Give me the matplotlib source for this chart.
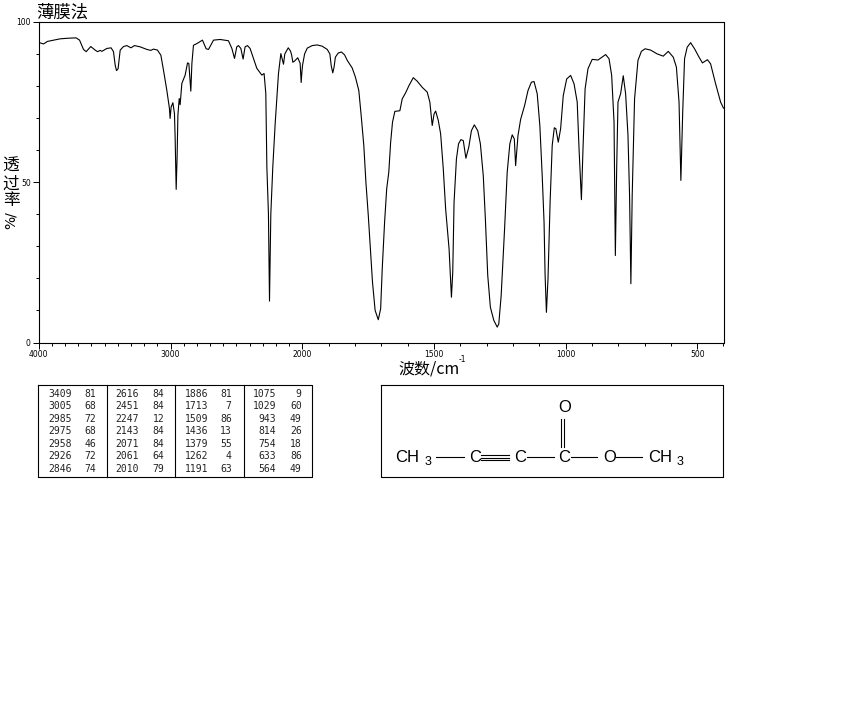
#!/usr/bin/env python
#
# IR spectrum (film method) with peak table and structure below it.

import numpy as np
import matplotlib
matplotlib.use('Agg')
import matplotlib.pyplot as plt

plt.rcParams['font.family'] = ['Noto Sans CJK SC', 'DejaVu Sans']

# spectrum
wavenumber = [
    4000, 3962, 3932, 3861, 3836, 3773, 3715, 3689, 3659, 3639, 3604, 3571, 3553, 3533, 3520,
    3482, 3450, 3432, 3419, 3409, 3397, 3381, 3356, 3331, 3300, 3273, 3230, 3179, 3149, 3129,
    3099, 3073, 3053, 3028, 3008, 3003, 2995, 2982, 2970, 2965, 2957, 2950, 2944, 2934, 2927,
    2914, 2889, 2871, 2861, 2846, 2838, 2826, 2801, 2758, 2730, 2712, 2674, 2624, 2561, 2535,
    2515, 2498, 2485, 2467, 2450, 2435, 2417, 2397, 2346, 2308, 2291, 2278, 2270, 2258, 2250,
    2240, 2225, 2207, 2182, 2164, 2144, 2134, 2108, 2091, 2082, 2073, 2062, 2050, 2036, 2018,
    2010, 2005, 2000, 1992, 1982, 1963, 1944, 1925, 1906, 1896, 1891, 1885, 1880, 1875, 1864,
    1852, 1840, 1830, 1811, 1799, 1786, 1777, 1767, 1759, 1750, 1741, 1734, 1724, 1712, 1703,
    1697, 1688, 1680, 1672, 1665, 1658, 1649, 1630, 1621, 1608, 1595, 1579, 1564, 1545, 1526,
    1516, 1507, 1500, 1494, 1484, 1475, 1465, 1456, 1443, 1434, 1429, 1424, 1415, 1407, 1398,
    1389, 1379, 1368, 1358, 1347, 1334, 1324, 1313, 1305, 1296, 1286, 1273, 1260, 1254, 1245,
    1232, 1222, 1212, 1203, 1195, 1190, 1181, 1171, 1156, 1143, 1130, 1120, 1108, 1098, 1089,
    1082, 1078, 1073, 1067, 1059, 1051, 1043, 1037, 1028, 1019, 1009, 996, 981, 968, 956,
    949, 940, 934, 926, 915, 899, 877, 848, 835, 825, 816, 811, 806, 801, 791,
    781, 772, 763, 757, 752, 747, 738, 725, 712, 698, 677, 652, 629, 610, 591,
    579, 569, 562, 555, 548, 538, 525, 510, 493, 480, 461, 449, 430, 411, 402, 400,
]
transmittance = [
    93.5, 93.0, 93.8, 94.4, 94.6, 94.8, 94.9, 94.2, 91.3, 90.6, 92.2, 91.1, 90.6, 91.0, 90.7,
    91.6, 91.8, 90.6, 86.4, 84.7, 85.3, 91.1, 92.2, 92.5, 91.8, 92.5, 92.1, 91.3, 91.0, 91.4,
    91.1, 89.5, 84.8, 78.6, 72.9, 69.8, 73.4, 74.7, 71.3, 64.0, 47.7, 57.8, 70.8, 76.0, 74.1,
    80.7, 83.3, 87.1, 86.9, 78.3, 86.9, 92.6, 93.1, 94.2, 91.5, 91.3, 94.2, 94.4, 94.0, 91.6,
    88.5, 92.1, 92.5, 91.6, 88.3, 92.1, 92.5, 91.6, 85.4, 83.3, 83.8, 77.6, 54.7, 40.0, 12.9,
    40.0, 54.7, 68.2, 83.8, 90.0, 86.7, 89.9, 91.8, 90.8, 89.5, 87.3, 87.6, 88.1, 88.7, 87.0,
    81.0, 84.0, 86.3, 89.9, 91.7, 92.5, 92.7, 92.3, 91.3, 89.9, 86.3, 84.0, 85.8, 88.9, 90.2,
    90.5, 89.6, 87.9, 85.5, 82.7, 78.5, 70.7, 61.4, 49.9, 39.6, 28.1, 18.8, 10.0, 7.1, 10.5,
    22.9, 37.5, 47.9, 53.1, 62.4, 68.6, 72.0, 72.2, 75.9, 77.8, 80.1, 82.5, 81.4, 79.5, 78.0,
    74.9, 67.6, 71.2, 72.1, 69.2, 65.0, 54.1, 41.6, 29.2, 14.1, 21.9, 43.7, 57.2, 61.9, 63.2,
    62.9, 57.4, 60.9, 66.0, 67.8, 66.0, 61.9, 52.0, 38.5, 20.9, 11.0, 6.9, 4.8, 5.8, 14.6,
    35.4, 53.1, 61.9, 64.7, 63.4, 55.1, 64.5, 69.5, 73.8, 78.5, 81.1, 81.3, 77.5, 67.6, 52.0,
    37.5, 20.9, 9.4, 19.8, 43.7, 61.4, 66.9, 66.6, 62.4, 66.6, 76.9, 82.1, 83.2, 80.6, 74.9,
    60.3, 44.5, 60.3, 79.0, 85.3, 88.2, 88.0, 89.7, 88.4, 83.2, 68.6, 27.1, 54.1, 74.9, 77.5,
    83.1, 77.5, 64.5, 45.8, 18.3, 45.8, 75.9, 87.9, 90.7, 91.5, 91.1, 89.9, 89.2, 90.7, 88.9,
    85.8, 74.9, 50.5, 71.8, 88.4, 92.0, 93.4, 91.5, 88.9, 87.1, 88.1, 86.8, 80.6, 74.9, 73.3, 73.0,
]

# peak table, one list per column pair
peak_columns = [
    (['3409', '3005', '2985', '2975', '2958', '2926', '2846'], ['81', '68', '72', '68', '46', '72', '74']),
    (['2616', '2451', '2247', '2143', '2071', '2061', '2010'], ['84', '84', '12', '84', '84', '64', '79']),
    (['1886', '1713', '1509', '1436', '1379', '1262', '1191'], ['81', '7', '86', '13', '55', '4', '63']),
    (['1075', '1029', '943', '814', '754', '633', '564'], ['9', '60', '49', '26', '18', '86', '49']),
]

x_major = [4000, 3000, 2000, 1500, 1000, 500]
x_minor = list(range(400, 4000, 100))
y_major = [0, 50, 100]
y_minor = list(range(0, 101, 10))


# the wavenumber axis changes scale at 2000
def forward(x):
    return np.interp(x, [400, 2000, 4000], [0, 421, 685])


def inverse(x):
    return np.interp(x, [0, 421, 685], [400, 2000, 4000])


fig = plt.figure(figsize=(8.5, 7.09), dpi=100)

# overlay in pixel coordinates for table, structure and labels
page = fig.add_axes([0, 0, 1, 1])
page.set_xlim(0, 850)
page.set_ylim(709, 0)
page.axis('off')

ax = fig.add_axes([38.5 / 850, 1 - 342.5 / 709, 685 / 850, 321 / 709])
ax.set_xscale('function', functions=(forward, inverse))
ax.set_xlim(4000, 400)
ax.set_ylim(0, 100)
ax.plot(wavenumber, transmittance, color='black', lw=0.8)

ax.set_xticks(x_major)
ax.set_xticklabels([str(v) for v in x_major], family='DejaVu Sans', fontsize=5.5)
ax.set_xticks(x_minor, minor=True)
ax.set_yticks(y_major)
ax.set_yticklabels([str(v) for v in y_major], family='DejaVu Sans', fontsize=5.5)
ax.set_yticks(y_minor, minor=True)
ax.tick_params(which='major', length=4, width=0.7, pad=1.5)
ax.tick_params(which='minor', length=2, width=0.7)
ax.patch.set_alpha(0)
for spine in ax.spines.values():
    spine.set_linewidth(0.8)

# axis texts
page.text(36, 12.5, '薄膜法', fontsize=12.5, ha='left', va='center')
page.text(398, 369, '波数/cm', fontsize=11.5, ha='left', va='center')
page.text(459, 360, '-1', family='DejaVu Sans', fontsize=5.5, ha='left', va='center')
for y_pos, ch in zip([166, 184, 201], '透过率'):
    page.text(11, y_pos, ch, fontsize=12, ha='center', va='center')
page.text(11, 220, '%/', family='DejaVu Sans', fontsize=10, rotation=90, ha='center', va='center')

# peak table
page.plot([38.5, 312.5, 312.5, 38.5, 38.5], [385, 385, 477, 477, 385], color='black', lw=0.8)
for x_pos in [107.5, 175.5, 244.5]:
    page.plot([x_pos, x_pos], [385, 477], color='black', lw=0.8)
row_y = [394.3, 406.3, 418.7, 431, 443.7, 456, 468.7]
col_right = [(71.7, 96), (139.3, 164.3), (208.3, 231.7), (276, 301.7)]
for (wn_col, t_col), (wn_x, t_x) in zip(peak_columns, col_right):
    for y_pos, wn_txt, t_txt in zip(row_y, wn_col, t_col):
        page.text(wn_x, y_pos, wn_txt, family='DejaVu Sans Mono', fontsize=7, color='#222222', ha='right', va='center')
        page.text(t_x, y_pos, t_txt, family='DejaVu Sans Mono', fontsize=7, color='#222222', ha='right', va='center')

# structure CH3-C#C-C(=O)-O-CH3
page.plot([381.5, 723.5, 723.5, 381.5, 381.5], [385, 385, 477, 477, 385], color='black', lw=0.8)
bonds = [(436.5, 464.5, 457, 457), (481, 509, 455, 455), (481, 509, 457.5, 457.5), (481, 509, 460, 460),
         (527.5, 554.5, 457, 457), (571.5, 597.5, 457, 457), (616.5, 642.5, 457, 457),
         (561.5, 561.5, 419, 447), (564.5, 564.5, 419, 447)]
for x0, x1, y0, y1 in bonds:
    page.plot([x0, x1], [y0, y1], color='black', lw=0.8)
atoms = [(395, 'CH', 'left'), (475, 'C', 'center'), (520, 'C', 'center'), (564, 'C', 'center'),
         (610, 'O', 'center'), (648, 'CH', 'left')]
for x_pos, label, align in atoms:
    page.text(x_pos, 457, label, family='Liberation Sans', fontsize=12, ha=align, va='center')
page.text(565, 408, 'O', family='Liberation Sans', fontsize=12, ha='center', va='center')
for x_pos in [428, 680]:
    page.text(x_pos, 462, '3', family='Liberation Sans', fontsize=9, ha='center', va='center')

fig.savefig('out.png', dpi=100)
